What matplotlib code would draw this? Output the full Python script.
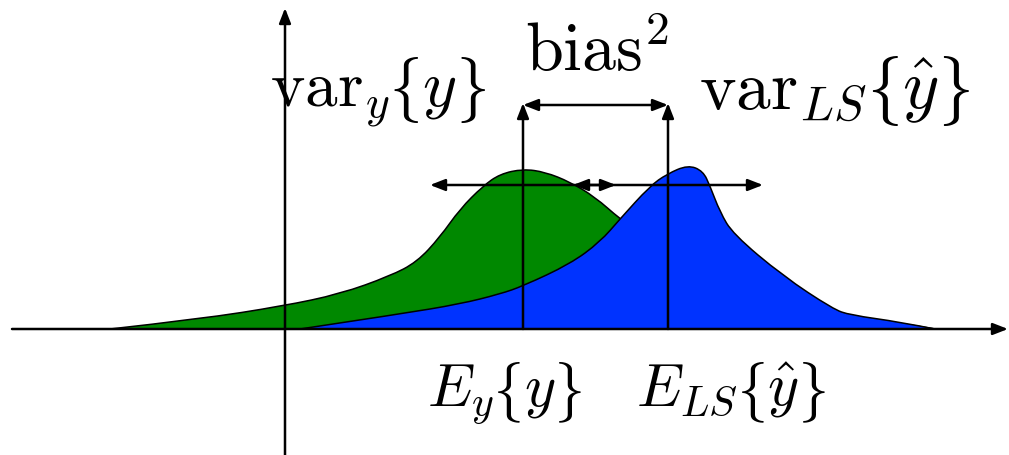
import os
import matplotlib
import matplotlib.pyplot as plt
from matplotlib.path import Path
from matplotlib.patches import PathPatch
from matplotlib.font_manager import FontProperties

plt.rcParams["mathtext.fontset"] = "cm"

# curve outlines in canvas pixels (x, y measured downward)
green_x = [110, 200, 283, 340, 390, 417, 440, 460, 483, 500, 523, 545, 570, 595, 620, 650, 680, 720, 780, 850, 900, 935]
green_y = [330, 320, 307, 295, 277, 263, 238, 210, 187, 175, 170, 173, 183, 198, 220, 242, 265, 290, 310, 318, 324, 330]

blue_x = [300, 400, 460, 500, 523, 570, 600, 620, 650, 667, 688, 703, 710, 720, 733, 783, 833, 850, 900, 935]
blue_y = [330, 315, 305, 295, 287, 265, 243, 220, 187, 175, 166, 172, 187, 213, 235, 277, 310, 316, 323, 330]

base_y = 330
mean_y = 523
mean_ls = 668
spread_y = 93
spread_ls = 95

# braces come from cmsy10 ("f" = lbrace, "g" = rbrace)
LB, RB = "{", "}"
labels = [
    ([r"$\mathrm{var}_{y}$", LB, r"$y$", RB], 270, 106, 47),
    ([r"$\mathrm{bias}^{2}$"], 525, 71, 49),
    ([r"$\mathrm{var}_{LS}$", LB, r"$\hat{y}$", RB], 699, 109, 50),
    ([r"$E_{y}$", LB, r"$y$", RB], 427, 406, 43),
    ([r"$E_{LS}$", LB, r"$\hat{y}$", RB], 636, 406, 43),
]

W, H = 1009, 456
cmsy = os.path.join(matplotlib.get_data_path(), "fonts", "ttf", "cmsy10.ttf")


def smooth_patch(xs, ys, color):
    pts = list(zip(xs, ys))
    verts = [pts[0]]
    codes = [Path.MOVETO]
    for i in range(1, len(pts) - 2):
        mid = ((pts[i][0] + pts[i + 1][0]) / 2, (pts[i][1] + pts[i + 1][1]) / 2)
        verts += [pts[i], mid]
        codes += [Path.CURVE3, Path.CURVE3]
    verts += [pts[-2], pts[-1], pts[0], pts[0]]
    codes += [Path.CURVE3, Path.CURVE3, Path.LINETO, Path.CLOSEPOLY]
    return PathPatch(Path(verts, codes), facecolor=color, edgecolor="black", lw=1.1)


fig = plt.figure(figsize=(W / 100, H / 100), dpi=100)
ax = fig.add_axes([0, 0, 1, 1])
ax.set_xlim(0, W)
ax.set_ylim(H, 0)
ax.axis("off")

ax.add_patch(smooth_patch(green_x, green_y, "#008800"))
ax.add_patch(smooth_patch(blue_x, blue_y, "#0033ff"))

arrow = dict(arrowstyle="-|>,head_length=0.9,head_width=0.35", color="black", lw=1.8,
             shrinkA=0, shrinkB=0)
both = dict(arrowstyle="<|-|>,head_length=0.9,head_width=0.35", color="black", lw=1.8,
            shrinkA=0, shrinkB=0)

# axes
ax.annotate("", xy=(W - 1, base_y), xytext=(12, base_y), arrowprops=arrow)
ax.annotate("", xy=(285, 9), xytext=(285, H), arrowprops=arrow)

# means
ax.annotate("", xy=(mean_y, 104), xytext=(mean_y, base_y), arrowprops=arrow)
ax.annotate("", xy=(mean_ls, 104), xytext=(mean_ls, base_y), arrowprops=arrow)
ax.annotate("", xy=(mean_y, 106), xytext=(mean_ls, 106), arrowprops=both)

# spreads
ax.annotate("", xy=(mean_y - spread_y, 186), xytext=(mean_y + spread_y, 186), arrowprops=both)
ax.annotate("", xy=(mean_ls - spread_ls, 186), xytext=(mean_ls + spread_ls, 186), arrowprops=both)

renderer = fig.canvas.get_renderer()

# lay pieces out left to right on one baseline
for pieces, x, y, fs in labels:
    for s in pieces:
        if s in (LB, RB):
            fp = FontProperties(fname=cmsy, size=fs)
            t = ax.text(x, y, "f" if s == LB else "g", fontproperties=fp,
                        va="baseline", ha="left")
        else:
            t = ax.text(x, y, s, fontsize=fs, va="baseline", ha="left")
        x += t.get_window_extent(renderer).width

fig.savefig("out.png", dpi=100)
